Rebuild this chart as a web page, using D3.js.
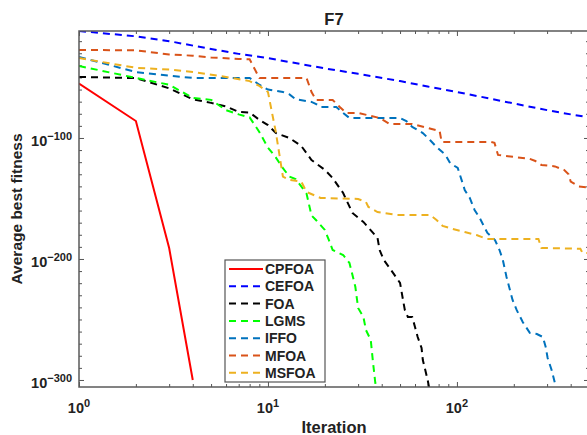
<!DOCTYPE html>
<html>
<head>
<meta charset="utf-8">
<script src="https://cdn.jsdelivr.net/npm/d3@7"></script>
<style>
  body { margin: 0; background: #fff; }
  text { font-family: "Liberation Sans", Arial, sans-serif; font-weight: bold; fill: #222; }
</style>
</head>
<body>
<div id="chart"></div>
<script>
// log10 of average best fitness, read per iteration
const cpfoaIter = [1, 2, 3, 4];
const cpfoaLog = [-55, -86, -191, -300];

const cefoaIter = [1, 2, 3, 5, 7, 10, 15, 20, 30, 50, 70, 100, 150, 200, 300, 400, 500];
const cefoaLog = [-11.6, -16, -20, -26.5, -30.5, -34, -39, -42.5, -47, -53, -57.5, -62, -67.5, -71.5, -77, -80.5, -83];

const foaIter = [1, 2, 3, 4, 5, 6, 7, 8, 9, 10, 11, 13, 15, 17, 20, 22, 25, 28, 32, 38, 39, 41, 44, 50, 52, 53, 55, 58, 60, 62, 65, 66, 68, 70, 72];
const foaLog = [-49.6, -50.5, -59, -68, -71, -74, -78.5, -79, -85, -89.3, -95.9, -100, -106.6, -118.2, -126.4, -133.1, -145.5, -162, -169.4, -182.6, -192.6, -200.8, -207.4, -219.8, -235, -242.1, -247.9, -247.9, -256.2, -264.5, -273.6, -283.5, -291.8, -300, -310];

const lgmsIter = [1, 2, 3, 4, 5, 6, 7, 8, 9, 10, 11, 12, 13, 14, 15, 16, 17, 18, 20, 21, 22, 25, 27, 28, 29, 30, 32, 33, 35, 36, 37, 38];
const lgmsLog = [-40.5, -50.4, -56, -66.9, -68.5, -77, -80.5, -83, -95, -108, -116, -125, -132, -134, -140, -146, -164, -168, -176, -184.3, -192.6, -196.7, -203.3, -213.2, -223, -240.5, -247.9, -258.7, -267, -286, -302.5, -315];

const iffoIter = [1, 2, 3, 4, 8, 9, 10, 12, 13, 14, 17, 18, 19, 23, 25, 27, 50, 54, 58, 66, 72, 78, 87, 92, 101, 106, 110, 117, 124, 132, 145, 159, 168, 175, 183, 197, 207, 223, 243, 265, 285, 295, 302, 317, 330, 340];
const iffoLog = [-33, -45.5, -48.5, -50.4, -50.4, -56, -60, -62, -64, -68, -70.2, -72, -74.4, -74.4, -79.3, -83.5, -83.5, -86, -90.9, -95.9, -101.7, -107.4, -114, -120.7, -124.8, -135, -143, -149.6, -159.5, -166.1, -178.5, -184.3, -192.6, -200.8, -214.9, -233.9, -242.1, -252.1, -261.1, -262, -264.5, -272.7, -281.8, -291.7, -302.5, -315];

const mfoaIter = [1, 2, 3, 4, 5, 7, 8, 9, 16, 17, 18, 22, 24, 26, 30, 39, 44, 58, 70, 81, 83, 152, 158, 165, 200, 240, 260, 280, 330, 370, 390, 400, 440, 500];
const mfoaLog = [-27.3, -27.5, -31, -32, -33.5, -34.7, -35, -50.4, -50.4, -62, -68.6, -68.6, -74.4, -79.3, -79.3, -83.5, -88.4, -88.4, -91.7, -94.2, -103.3, -103.3, -104, -114, -115.7, -117, -119, -122.3, -123.5, -126.5, -130, -136, -140, -141];

const msfoaIter = [1, 2, 3, 4, 6, 8, 9, 10, 11, 12, 13, 15, 16, 19, 30, 33, 34, 38, 48, 72, 78, 84, 95, 110, 127, 144, 270, 280, 450, 462, 500];
const msfoaLog = [-34, -42, -43.5, -45.5, -49.6, -53, -57, -62, -95, -132, -134.7, -136, -144.6, -149.6, -150.4, -152.9, -157, -161.2, -163.6, -163.6, -167.8, -172.7, -175.2, -177.7, -180.2, -183.5, -183.5, -190.9, -191.5, -195, -195];

const seriesNames = ["CPFOA", "CEFOA", "FOA", "LGMS", "IFFO", "MFOA", "MSFOA"];
const seriesColors = ["#ff0000", "#0000ff", "#000000", "#00ff00", "#0072bd", "#d95319", "#edb120"];
const seriesIters = [cpfoaIter, cefoaIter, foaIter, lgmsIter, iffoIter, mfoaIter, msfoaIter];
const seriesLogs = [cpfoaLog, cefoaLog, foaLog, lgmsLog, iffoLog, mfoaLog, msfoaLog];

const xMajor = [1, 10, 100];
const yMajor = [-300, -200, -100];

const W = 587, H = 435;
const plot = { left: 79, right: 589, top: 31, bottom: 387 };

const svg = d3.select("#chart").append("svg")
  .attr("width", W).attr("height", H);

const x = d3.scaleLog().domain([1, 500]).range([plot.left, plot.right]);
const y = d3.scaleLinear().domain([-305.8, -11.6]).range([plot.bottom, plot.top]);

svg.append("defs").append("clipPath").attr("id", "plot-clip")
  .append("rect")
  .attr("x", plot.left).attr("y", plot.top)
  .attr("width", plot.right - plot.left).attr("height", plot.bottom - plot.top);

// ticks (inside, on all four sides)
const xMinor = x.ticks().filter(v => !xMajor.includes(v));
const yMinor = y.ticks(30).filter(v => !yMajor.includes(v) && v > -305 && v < -12);

const tickStyle = g => {
  g.select(".domain").remove();
  g.selectAll("line").attr("stroke", "#555").attr("stroke-width", 1);
};

[[d3.axisBottom, plot.bottom], [d3.axisTop, plot.top]].forEach(([ax, pos]) => {
  svg.append("g").attr("transform", `translate(0,${pos})`)
    .call(ax(x).tickValues(xMinor).tickSize(-3).tickSizeOuter(0).tickFormat(""))
    .call(tickStyle);
  svg.append("g").attr("transform", `translate(0,${pos})`)
    .call(ax(x).tickValues(xMajor).tickSize(-5).tickSizeOuter(0).tickFormat(""))
    .call(tickStyle);
});
[[d3.axisLeft, plot.left], [d3.axisRight, plot.right]].forEach(([ax, pos]) => {
  svg.append("g").attr("transform", `translate(${pos},0)`)
    .call(ax(y).tickValues(yMinor).tickSize(-3).tickSizeOuter(0).tickFormat(""))
    .call(tickStyle);
  svg.append("g").attr("transform", `translate(${pos},0)`)
    .call(ax(y).tickValues(yMajor).tickSize(-5).tickSizeOuter(0).tickFormat(""))
    .call(tickStyle);
});

// tick labels as 10^n
const xLabels = svg.append("g").selectAll("text")
  .data(xMajor).join("text")
  .attr("x", d => x(d)).attr("y", 413)
  .attr("text-anchor", "middle")
  .style("font-size", "14.5px");
xLabels.append("tspan").text("10");
xLabels.append("tspan").attr("dy", -6).style("font-size", "11px")
  .text(d => Math.round(Math.log10(d)));

const yLabels = svg.append("g").selectAll("text")
  .data(yMajor).join("text")
  .attr("x", 72).attr("y", d => y(d) + 8)
  .attr("text-anchor", "end")
  .style("font-size", "14.5px");
yLabels.append("tspan").text("10");
yLabels.append("tspan").attr("dy", -6).style("font-size", "11px")
  .text(d => "\u2212" + Math.abs(d));

// lines
const line = d3.line()
  .x(d => x(d[0]))
  .y(d => y(d[1]));

const lines = svg.append("g").attr("clip-path", "url(#plot-clip)");
seriesNames.forEach((name, i) => {
  const pts = seriesIters[i].map((it, j) => [it, seriesLogs[i][j]]);
  lines.append("path")
    .datum(pts)
    .attr("fill", "none")
    .attr("stroke", seriesColors[i])
    .attr("stroke-width", 2)
    .attr("stroke-dasharray", i === 0 ? null : "7,5")
    .attr("d", line);
});

// box
svg.append("rect")
  .attr("x", plot.left).attr("y", plot.top)
  .attr("width", plot.right - plot.left).attr("height", plot.bottom - plot.top)
  .attr("fill", "none").attr("stroke", "#5a5a5a").attr("stroke-width", 1.5);

// title and axis labels
svg.append("text").attr("x", (plot.left + plot.right) / 2).attr("y", 25)
  .attr("text-anchor", "middle").style("font-size", "16.5px").text("F7");
svg.append("text").attr("x", (plot.left + plot.right) / 2).attr("y", 433)
  .attr("text-anchor", "middle").style("font-size", "16.5px").text("Iteration");
svg.append("text")
  .attr("transform", `translate(22,${(plot.top + plot.bottom) / 2}) rotate(-90)`)
  .attr("text-anchor", "middle").style("font-size", "15.5px").text("Average best fitness");

// legend
const legend = svg.append("g");
legend.append("rect")
  .attr("x", 225).attr("y", 260).attr("width", 100).attr("height", 122)
  .attr("fill", "#fff").attr("stroke", "#555").attr("stroke-width", 1.2);
const items = legend.selectAll("g.item")
  .data(seriesNames).join("g").attr("class", "item")
  .attr("transform", (d, i) => `translate(0,${269 + i * 17.3})`);
items.append("line")
  .attr("x1", 229).attr("x2", 263)
  .attr("stroke", (d, i) => seriesColors[i])
  .attr("stroke-width", 2)
  .attr("stroke-dasharray", (d, i) => i === 0 ? null : "7,5");
items.append("text")
  .attr("x", 265).attr("y", 5)
  .style("font-size", "14px")
  .text(d => d);
</script>
</body>
</html>
